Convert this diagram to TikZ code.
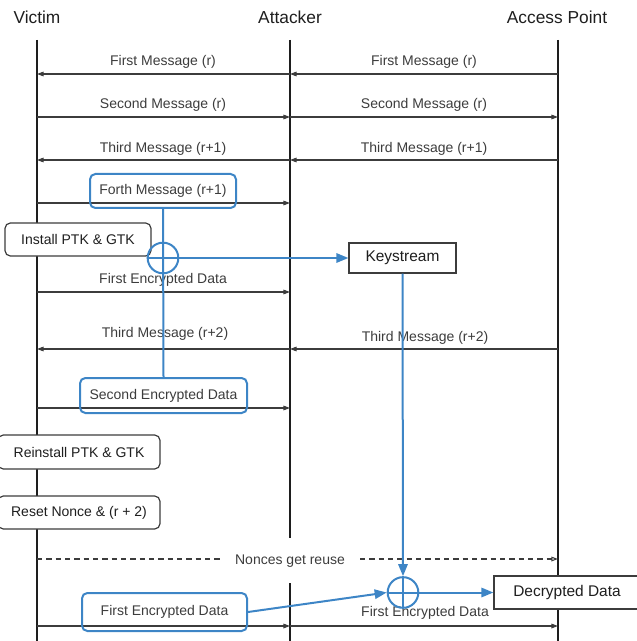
\documentclass[tikz,border=0pt]{standalone}
\usepackage{fontspec}
\setmainfont{Liberation Sans}
\usetikzlibrary{arrows.meta}
\definecolor{kblue}{RGB}{61,133,198}
\definecolor{kgray}{RGB}{60,60,60}
\definecolor{kline}{RGB}{30,30,30}
\begin{document}
\begin{tikzpicture}[x=0.75pt,y=-0.75pt,
  life/.style={line width=1.5pt, kline},
  msg/.style={line width=0.8pt, kgray, -{Triangle[length=5pt,width=3.5pt]}},
  dmsg/.style={line width=0.8pt, kgray, dashed, dash pattern=on 4pt off 3pt, -{Triangle[open,length=5pt,width=3.5pt]}},
  lbl/.style={font=\fontsize{10.5}{12}\selectfont, text=kgray, inner sep=1pt},
  head/.style={font=\fontsize{13}{15}\selectfont, text=kline, inner sep=0pt},
  bluebox/.style={draw=kblue, line width=1.5pt, rounded corners=4pt, inner sep=0pt,
    font=\fontsize{10.5}{12}\selectfont, text=kgray},
  graybox/.style={draw=kgray, line width=0.9pt, rounded corners=4pt, fill=white, inner sep=0pt,
    font=\fontsize{10.5}{12}\selectfont, text=kline},
  plainbox/.style={draw=kgray, line width=0.9pt, fill=white, inner sep=0pt,
    font=\fontsize{11.6}{14}\selectfont, text=kline},
  xorc/.style={circle, draw=kblue, line width=1.5pt, minimum size=23pt, inner sep=0pt},
  bl/.style={kblue, line width=1.5pt},
  barrow/.style={bl, -{Triangle[length=9pt,width=7pt]}},
]
\useasboundingbox (0,0) rectangle (636,641);

% headers
\node[head] (hv) at (37,17) {Victim};
\node[head] (ha) at (290,17) {Attacker};
\node[head] (hp) at (557,17) {Access Point};

% lifelines
\coordinate (vtop) at (37,40);   \coordinate (vbot) at (37,641);
\coordinate (atop) at (290,40);  \coordinate (agap1) at (290,538);
\coordinate (agap2) at (290,583); \coordinate (abot) at (290,641);
\coordinate (ptop) at (558,40);  \coordinate (pbot) at (558,641);
\draw[life] (vtop) -- (vbot);
\draw[life] (atop) -- (agap1);
\draw[life] (agap2) -- (abot);
\draw[life] (ptop) -- (pbot);

% message endpoints
\foreach \n/\y in {1/74,2/117,3/160,4/203,5/292,6/349,7/408,8/559,9/626}{
  \coordinate (v\n) at (37,\y);
  \coordinate (a\n) at (290,\y);
  \coordinate (p\n) at (558,\y);
}

% messages
\draw[msg] (a1) -- (v1);  \node[lbl] (l1a) at (163,62) {First Message (r)};
\draw[msg] (p1) -- (a1);  \node[lbl] (l1b) at (424,62) {First Message (r)};
\draw[msg] (v2) -- (a2);  \node[lbl] (l2a) at (163,105) {Second Message (r)};
\draw[msg] (a2) -- (p2);  \node[lbl] (l2b) at (424,105) {Second Message (r)};
\draw[msg] (a3) -- (v3);  \node[lbl] (l3a) at (163,149) {Third Message (r+1)};
\draw[msg] (p3) -- (a3);  \node[lbl] (l3b) at (424,149) {Third Message (r+1)};
\draw[msg] (v4) -- (a4);
\draw[msg] (v5) -- (a5);  \node[lbl] (l5a) at (163,280) {First Encrypted Data};
\draw[msg] (a6) -- (v6);  \node[lbl] (l6a) at (165,334) {Third Message (r+2)};
\draw[msg] (p6) -- (a6);  \node[lbl] (l6b) at (425,338) {Third Message (r+2)};
\draw[msg] (v7) -- (a7);
\node[lbl] (l8) at (290,561) {Nonces get reuse};
\coordinate (d1) at (220,559); \coordinate (d2) at (360,559);
\draw[line width=0.8pt, kgray, dash pattern=on 4pt off 3pt] (v8) -- (d1);
\draw[dmsg] (d2) -- (p8);
\draw[msg] (v9) -- (a9);
\draw[msg] (a9) -- (p9);  \node[lbl] (l9b) at (425,613) {First Encrypted Data};

% boxes
\node[bluebox, minimum width=109.5pt, minimum height=25.5pt] (forth) at (163,191) {Forth Message (r+1)};
\node[graybox, minimum width=109.5pt, minimum height=24.75pt] (inst) at (78,239.5) {Install PTK \& GTK};
\node[plainbox, minimum width=80.25pt, minimum height=22.5pt] (ks) at (402.5,258) {Keystream};
\node[bluebox, minimum width=125.25pt, minimum height=26.25pt] (sec) at (163.5,395.5) {Second Encrypted Data};
\node[graybox, minimum width=121.5pt, minimum height=25.5pt] (reinst) at (79,452) {Reinstall PTK \& GTK};
\node[graybox, minimum width=121.5pt, minimum height=24.75pt] (reset) at (79,512.5) {Reset Nonce \& (r + 2)};
\node[bluebox, minimum width=123.75pt, minimum height=28.5pt] (fed) at (164.5,612) {First Encrypted Data};
\node[plainbox, minimum width=109.5pt, minimum height=24.75pt] (dec) at (567,592.5) {Decrypted Data};

% XOR operations
\node[xorc] (x1) at (163,258) {};
\node[xorc] (x2) at (403,592.5) {};
\draw[bl] (forth.south) -- (sec.north);
\draw[bl] (x1.west) -- (x1.east);
\draw[barrow] (x1.east) -- (ks.west);
\draw[barrow] (ks.south) -- (x2.north);
\draw[bl] (x2.north) -- (x2.south);
\draw[bl] (x2.west) -- (x2.east);
\draw[barrow] (fed.east) -- (x2.west);
\draw[barrow] (x2.east) -- (dec.west);
\end{tikzpicture}
\end{document}
